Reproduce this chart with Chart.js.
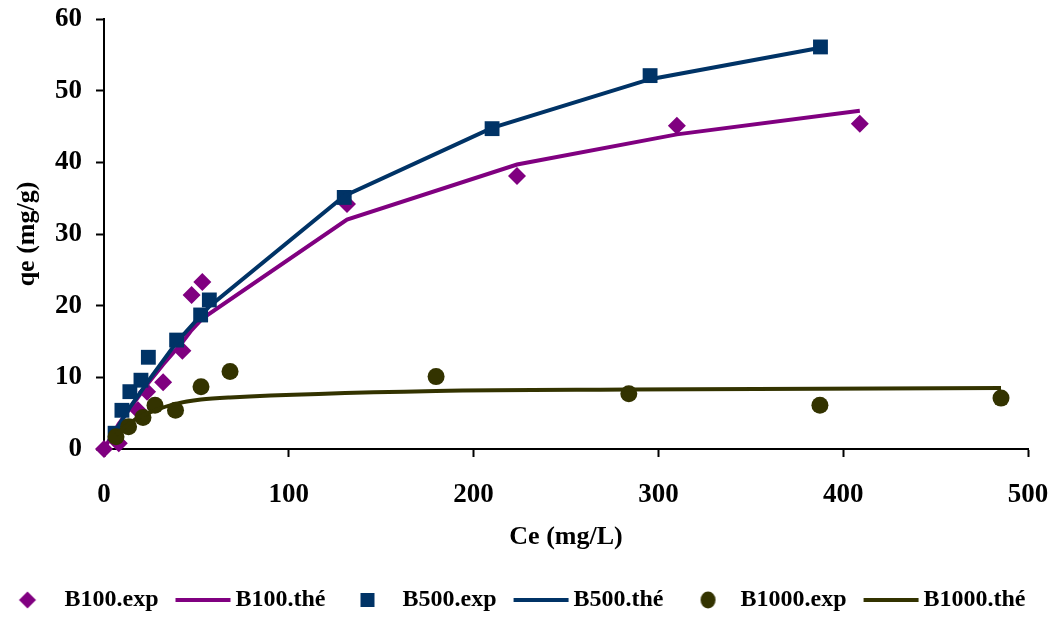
<!DOCTYPE html>
<html>
<head>
<meta charset="utf-8">
<script src="https://cdn.jsdelivr.net/npm/chart.js@4/dist/chart.umd.min.js"></script>
<style>
    html, body { margin: 0; background: #fff; overflow: hidden; }
    #wrap { width: 1058px; height: 617px; overflow: hidden; }
</style>
</head>
<body>
<div id="wrap"><canvas id="isotherm" width="1058" height="622"></canvas></div>
<script>
// B100 : experimental points and model curve (same Ce)
const b100Ce  = [0, 8, 18.4, 23.3, 32, 42.4, 47.4, 53.2, 131.5, 223.5, 310, 409];
const b100Exp = [0, 0.8, 5.4, 8.0, 9.3, 13.7, 21.5, 23.3, 34.2, 38.1, 45.1, 45.4];
const b100The = [0, 3.5, 7.2, 9.0, 11.8, 14.9, 16.6, 18.2, 32.0, 39.7, 43.9, 47.2];

// B500
const b500Ce  = [6, 9.7, 14, 20, 24, 39.3, 52.3, 57, 130, 210, 295.5, 387.7];
const b500Exp = [2.2, 5.4, 8.0, 9.6, 12.8, 15.2, 18.7, 20.8, 35.1, 44.7, 52.1, 56.1];
const b500The = [2.4, 4.0, 5.8, 8.0, 9.5, 14.9, 18.6, 19.9, 35.3, 44.8, 51.6, 56.0];

// B1000
const b1000Ce  = [6.5, 13.3, 21.1, 27.6, 38.7, 52.5, 68.2, 179.7, 284, 387.4, 485.4];
const b1000Exp = [1.7, 3.1, 4.4, 6.1, 5.4, 8.7, 10.8, 10.1, 7.7, 6.1, 7.1];
const b1000The = [2.0, 3.5, 4.7, 5.4, 6.3, 6.9, 7.2, 8.1, 8.3, 8.4, 8.5];

const seriesNames = ['B100.exp', 'B100.thé', 'B500.exp', 'B500.thé', 'B1000.exp', 'B1000.thé'];
const xTicks = [0, 100, 200, 300, 400, 500];
const yTicks = [0, 10, 20, 30, 40, 50, 60];

const PURPLE = '#800080';
const NAVY = '#003366';
const OLIVE = '#333300';
const FONT = '"Liberation Serif", "Times New Roman", serif';

function pts(xs, ys) {
    return xs.map(function (x, i) { return { x: x, y: ys[i] }; });
}

// small canvases used as legend symbols
function icon(kind, color) {
    var c = document.createElement('canvas');
    c.width = 70;
    c.height = 24;
    var g = c.getContext('2d');
    g.fillStyle = color;
    g.strokeStyle = color;
    if (kind === 'line') {
        g.lineWidth = 4;
        g.beginPath();
        g.moveTo(12, 12);
        g.lineTo(67, 12);
        g.stroke();
    } else if (kind === 'diamond') {
        g.beginPath();
        g.moveTo(35, 3.5);
        g.lineTo(43.5, 12);
        g.lineTo(35, 20.5);
        g.lineTo(26.5, 12);
        g.closePath();
        g.fill();
    } else if (kind === 'square') {
        g.fillRect(30, 5, 14, 14);
    } else {
        g.beginPath();
        g.ellipse(39.5, 12, 7.5, 8.5, 0, 0, Math.PI * 2);
        g.fill();
    }
    return c;
}

const legendIcons = [
    icon('diamond', PURPLE), icon('line', PURPLE),
    icon('square', NAVY), icon('line', NAVY),
    icon('circle', OLIVE), icon('line', OLIVE)
];

function expSet(i, xs, ys, color, style, radius) {
    return {
        label: seriesNames[i],
        data: pts(xs, ys),
        order: 6 - i,
        showLine: false,
        pointStyle: style,
        pointRadius: radius,
        pointHoverRadius: radius,
        pointBackgroundColor: color,
        pointBorderColor: color,
        pointBorderWidth: 0,
        backgroundColor: color,
        borderColor: color,
        clip: false
    };
}

function modelSet(i, xs, ys, color, mode) {
    return {
        label: seriesNames[i],
        data: pts(xs, ys),
        order: 6 - i,
        showLine: true,
        borderColor: color,
        backgroundColor: color,
        borderWidth: 4,
        pointRadius: 0,
        pointHoverRadius: 0,
        tension: 0,
        cubicInterpolationMode: mode,
        clip: false
    };
}

new Chart(document.getElementById('isotherm'), {
    type: 'scatter',
    data: {
        datasets: [
            expSet(0, b100Ce, b100Exp, PURPLE, 'rectRot', 9),
            modelSet(1, b100Ce, b100The, PURPLE, 'default'),
            expSet(2, b500Ce, b500Exp, NAVY, 'rect', 10.5),
            modelSet(3, b500Ce, b500The, NAVY, 'default'),
            expSet(4, b1000Ce, b1000Exp, OLIVE, 'circle', 8.5),
            modelSet(5, b1000Ce, b1000The, OLIVE, 'monotone')
        ]
    },
    options: {
        responsive: false,
        animation: false,
        devicePixelRatio: 1,
        // negative left padding pulls the bottom legend a little to the left
        layout: { padding: { top: 19, right: 0, left: -30, bottom: 0 } },
        plugins: {
            tooltip: { enabled: false },
            legend: {
                position: 'bottom',
                labels: {
                    usePointStyle: true,
                    pointStyleWidth: 50,
                    padding: 15,
                    color: '#000',
                    font: { family: FONT, size: 24, weight: 'bold' },
                    generateLabels: function (chart) {
                        var items = Chart.defaults.plugins.legend.labels.generateLabels(chart);
                        items.forEach(function (it) { it.pointStyle = legendIcons[it.datasetIndex]; });
                        return items.sort(function (a, b) { return a.datasetIndex - b.datasetIndex; });
                    }
                }
            }
        },
        scales: {
            x: {
                type: 'linear',
                min: 0,
                max: 500,
                afterBuildTicks: function (s) { s.ticks = xTicks.map(function (v) { return { value: v }; }); },
                afterFit: function (s) { s.height = 124; s.paddingRight = 30; },
                grid: { drawOnChartArea: false, drawTicks: true, tickLength: 8, tickWidth: 2, color: '#000' },
                border: { display: true, color: '#000', width: 2 },
                ticks: { padding: 22, color: '#000', font: { family: FONT, size: 27, weight: 'bold' } },
                title: {
                    display: true,
                    text: 'Ce (mg/L)',
                    color: '#000',
                    font: { family: FONT, size: 26, weight: 'bold' },
                    padding: { top: 0, bottom: 20 }
                }
            },
            y: {
                type: 'linear',
                min: 0,
                max: 60,
                afterBuildTicks: function (s) { s.ticks = yTicks.map(function (v) { return { value: v }; }); },
                afterFit: function (s) { s.width = 134; s.paddingTop = 0; s.paddingBottom = 0; },
                grid: { drawOnChartArea: false, drawTicks: true, tickLength: 8, tickWidth: 2, color: '#000' },
                border: { display: true, color: '#000', width: 2 },
                ticks: { padding: 14, color: '#000', font: { family: FONT, size: 27, weight: 'bold' } },
                title: {
                    display: true,
                    text: 'qe (mg/g)',
                    color: '#000',
                    font: { family: FONT, size: 26, weight: 'bold' },
                    padding: { top: 42, bottom: 0 }
                }
            }
        }
    }
});
</script>
</body>
</html>
